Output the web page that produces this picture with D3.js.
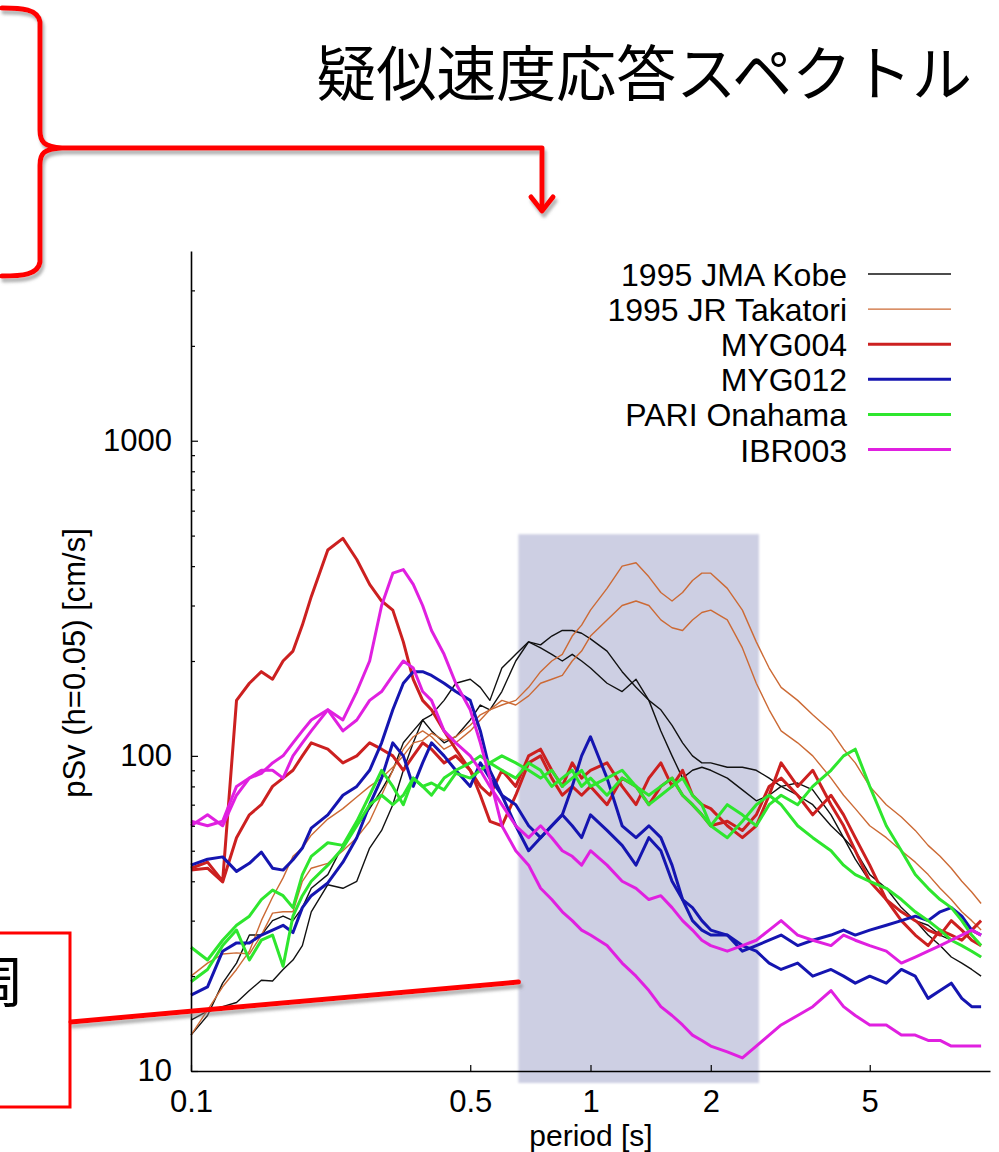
<!DOCTYPE html>
<html>
<head>
<meta charset="utf-8">
<script src="https://cdn.jsdelivr.net/npm/d3@7"></script>
<style>
  html, body { margin: 0; padding: 0; background: #fff; }
  svg { display: block; }
</style>
</head>
<body>
<svg id="chart" width="999" height="1152"></svg>
<script>
// Natural period of the oscillator [s]
const periods = [0.10, 0.11, 0.12, 0.13, 0.14, 0.15, 0.16, 0.17, 0.18, 0.19,
  0.20, 0.22, 0.24, 0.26, 0.28, 0.30, 0.32, 0.34, 0.36, 0.38,
  0.40, 0.43, 0.46, 0.50, 0.53, 0.56, 0.60, 0.65, 0.70, 0.75,
  0.80, 0.85, 0.90, 0.95, 1.0, 1.1, 1.2, 1.3, 1.4, 1.5,
  1.6, 1.7, 1.8, 1.9, 2.0, 2.2, 2.4, 2.6, 2.8, 3.0,
  3.3, 3.6, 4.0, 4.3, 4.6, 5.0, 5.5, 6.0, 6.5, 7.0,
  7.5, 8.0, 8.5, 9.0, 9.5];

// Pseudo-velocity response pSv (h=0.05) [cm/s], two horizontal components per station
const kobeNS = [14.5, 15.5, 16, 16.5, 18, 19.4, 19.3, 21, 22.5, 25,
  32, 39, 38, 40, 51, 58, 70, 90, 110, 130,
  135, 150, 170, 175, 165, 150, 190, 210, 230, 225,
  240, 250, 250, 245, 235, 215, 185, 165, 150, 140,
  125, 110, 100, 95, 95, 92, 92, 90, 85, 80,
  75, 70, 60, 55, 47, 40, 35, 32, 30, 27,
  25, 23, 22, 21, 20];
const kobeEW = [13, 15, 19, 22, 27, 27, 30, 31, 30, 33,
  38, 42, 52, 60, 68, 78, 90, 110, 120, 130,
  120, 110, 115, 130, 145, 140, 160, 200, 230, 220,
  210, 200, 210, 200, 190, 170, 160, 175, 150, 120,
  100, 85, 90, 92, 90, 85, 78, 72, 75, 80,
  82, 78, 65, 55, 50, 42, 38, 33, 30, 29,
  27, 26, 25, 24, 23];
const takatoriNS = [13, 15.6, 18.5, 21, 24, 30, 35.6, 41, 48, 51,
  56, 63, 68, 74, 80, 85, 92, 100, 110, 112,
  118, 112, 115, 125, 135, 140, 145, 150, 165, 185,
  200, 210, 240, 260, 290, 340, 400, 410, 370, 330,
  310, 330, 360, 380, 380, 340, 290, 230, 190, 165,
  150, 135, 120, 105, 95, 80, 70, 64, 58, 52,
  48, 44, 40, 37, 34];
const takatoriEW = [20, 22, 23.5, 23.7, 23.5, 27, 31.7, 32, 32, 40,
  44, 45.6, 50, 55, 62, 75, 90, 105, 115, 120,
  115, 105, 110, 120, 130, 140, 150, 145, 155, 170,
  175, 180, 200, 215, 240, 270, 300, 310, 300, 270,
  255, 250, 270, 285, 290, 270, 220, 170, 140, 120,
  110, 100, 85, 75, 68, 60, 55, 50, 46, 42,
  38, 35, 32, 30, 28];
const myg004NS = [44, 46, 40, 150, 170, 185, 175, 200, 215, 260,
  320, 450, 490, 420, 350, 310, 290, 230, 175, 150,
  140, 120, 105, 90, 75, 62, 60, 75, 95, 100,
  85, 75, 80, 75, 80, 70, 85, 80, 70, 80,
  85, 75, 70, 65, 60, 62, 58, 65, 80, 85,
  75, 65, 75, 65, 55, 45, 35, 30, 27, 25,
  28, 27, 26, 28, 30];
const myg004EW = [43.4, 44, 39.8, 55, 65, 70, 80, 85, 90, 100,
  110, 105, 95, 100, 110, 105, 100, 90, 100, 110,
  105, 95, 100, 90, 80, 75, 90, 80, 100, 105,
  90, 80, 95, 85, 90, 95, 80, 70, 85, 95,
  80, 90, 75, 70, 68, 60, 55, 60, 75, 95,
  80, 90, 70, 60, 50, 40, 35, 32, 30, 28,
  27, 30, 28, 26, 25];
const myg012NS = [45, 47, 47.8, 43, 45.6, 49.5, 44, 43.4, 46.8, 51,
  59, 65, 75, 80, 90, 110, 140, 170, 185, 185,
  180, 170, 160, 150, 120, 90, 75, 60, 50, 55,
  60, 65, 80, 100, 115, 85, 60, 55, 60, 55,
  45, 35, 30, 28, 27, 27, 25, 24, 22, 21,
  22, 20, 21, 20, 19, 20, 19, 21, 20, 17,
  18, 19, 17, 16, 16];
const myg012EW = [17.4, 18.5, 24, 25.5, 25.5, 27, 28, 29, 27.5, 33,
  36, 39.5, 46, 55, 70, 85, 110, 100, 80, 95,
  110, 100, 90, 80, 95, 85, 75, 70, 60, 55,
  60, 65, 60, 55, 65, 58, 52, 45, 55, 50,
  40, 35, 33, 30, 28, 27, 24, 25, 26, 27,
  25, 26, 27, 28, 27, 28, 29, 30, 31, 30,
  32, 33, 31, 28, 27];
const onahamaNS = [24.7, 22.5, 26, 29, 31, 35, 37.5, 36, 33, 42,
  48, 53, 52, 62, 75, 90, 80, 70, 85, 80,
  75, 85, 90, 95, 100, 95, 90, 85, 95, 90,
  80, 85, 90, 80, 85, 75, 85, 80, 75, 80,
  85, 75, 70, 65, 60, 70, 65, 60, 70, 75,
  70, 80, 90, 100, 105, 80, 60, 50, 42, 38,
  35, 33, 30, 27, 25];
const onahamaEW = [19.2, 21, 25, 28, 22.5, 26, 27, 21.5, 31, 36,
  40, 45, 51, 60, 70, 75, 70, 75, 85, 80,
  82, 78, 88, 85, 90, 95, 100, 95, 90, 85,
  90, 80, 85, 90, 80, 85, 90, 80, 70, 75,
  80, 85, 75, 70, 60, 55, 62, 70, 75, 70,
  60, 55, 50, 45, 42, 40, 38, 35, 32, 30,
  28, 26, 25, 24, 23];
const ibr003NS = [60, 65, 60, 75, 85, 90, 90, 85, 100, 110,
  120, 140, 130, 160, 200, 300, 380, 390, 350, 300,
  250, 210, 170, 140, 110, 85, 60, 50, 45, 38,
  35, 32, 30, 28, 27, 25, 22, 20, 18, 16,
  15, 14, 13, 12.5, 12, 11.5, 11, 12, 13, 14,
  15, 16, 18, 16, 15, 14, 14, 13, 13, 12.5,
  12.5, 12, 12, 12, 12];
const ibr003EW = [62, 60, 62, 80, 85, 88, 95, 100, 110, 120,
  130, 140, 120, 130, 150, 160, 180, 200, 190, 160,
  150, 120, 110, 100, 90, 80, 70, 60, 55, 60,
  55, 50, 48, 45, 50, 45, 40, 38, 35, 36,
  33, 30, 28, 26, 25, 24, 25, 26, 28, 30,
  27, 26, 25, 27, 26, 25, 24, 22, 23, 24,
  25, 26, 27, 28, 27];

// Axis ticks
const xTickValues = [0.1, 0.5, 1, 2, 5];
const yMajorTicks = [10, 100, 1000];
const yMinorTicks = [20, 30, 40, 50, 60, 70, 80, 90,
  200, 300, 400, 500, 600, 700, 800, 900, 2000, 3000];

// Period band highlighted on the chart [s] and its upper pSv edge
const bandPeriods = [0.66, 2.64];
const bandTop = 505;

const legendNames = ["1995 JMA Kobe", "1995 JR Takatori", "MYG004", "MYG012", "PARI Onahama", "IBR003"];
const legendColors = ["#111111", "#cc6a35", "#cc2020", "#1515b0", "#2ee62e", "#e020e0"];
const legendWidths = [1.4, 1.4, 3, 3, 3, 3];
const stationValues = [
  [kobeNS, kobeEW], [takatoriNS, takatoriEW], [myg004NS, myg004EW],
  [myg012NS, myg012EW], [onahamaNS, onahamaEW], [ibr003NS, ibr003EW]
];

const svg = d3.select("#chart");
svg.append("rect").attr("width", 999).attr("height", 1152).attr("fill", "#fff");

const defs = svg.append("defs");
const shadow = defs.append("filter").attr("id", "shadow")
  .attr("x", "-10%").attr("y", "-10%").attr("width", "130%").attr("height", "130%");
shadow.append("feDropShadow").attr("dx", 2).attr("dy", 4).attr("stdDeviation", 1.5)
  .attr("flood-color", "#777").attr("flood-opacity", 0.55);
const soft = defs.append("filter").attr("id", "soft")
  .attr("x", "-5%").attr("y", "-5%").attr("width", "110%").attr("height", "110%");
soft.append("feGaussianBlur").attr("stdDeviation", 1.2);

const x = d3.scaleLog().domain([0.1, 10]).range([191, 990]);
const y = d3.scaleLog().domain([10, 4000]).range([1071, 251]);

// Highlighted period band
svg.append("rect")
  .attr("x", x(bandPeriods[0]))
  .attr("y", y(bandTop))
  .attr("width", x(bandPeriods[1]) - x(bandPeriods[0]))
  .attr("height", y.range()[0] + 12 - y(bandTop))
  .attr("fill", "#cdcfe3")
  .attr("filter", "url(#soft)");

// Response spectra
const line = d3.line()
  .x((d, i) => x(periods[i]))
  .y(d => y(d))
  .curve(d3.curveLinear);

const plot = svg.append("g").attr("fill", "none").attr("stroke-linejoin", "round");
stationValues.forEach((pair, s) => {
  pair.forEach(vals => {
    plot.append("path")
      .datum(vals)
      .attr("d", line)
      .attr("stroke", legendColors[s])
      .attr("stroke-width", legendWidths[s]);
  });
});

// Axes
const fontFamily = "'Liberation Sans', Arial, Helvetica, sans-serif";
svg.append("g").attr("transform", "translate(191,0)")
  .call(d3.axisLeft(y).tickValues(yMajorTicks).tickFormat(d3.format("d"))
    .tickSize(-7).tickSizeOuter(0).tickPadding(19));
svg.append("g").attr("transform", "translate(191,0)")
  .call(d3.axisLeft(y).tickValues(yMinorTicks).tickFormat("")
    .tickSize(-4).tickSizeOuter(0))
  .select(".domain").remove();
svg.append("g").attr("transform", "translate(0,1071)")
  .call(d3.axisBottom(x).tickValues(xTickValues).tickFormat(d => String(d))
    .tickSize(-6).tickSizeOuter(0).tickPadding(19));
svg.selectAll(".tick text").attr("font-family", fontFamily).attr("font-size", 31).attr("fill", "#000");
svg.selectAll(".domain").attr("stroke", "#000").attr("stroke-width", 1.6);
svg.selectAll(".tick line").attr("stroke", "#000").attr("stroke-width", 1.2);

svg.append("text")
  .attr("transform", "translate(85,663) rotate(-90)")
  .attr("text-anchor", "middle")
  .attr("font-family", fontFamily).attr("font-size", 31)
  .text("pSv (h=0.05) [cm/s]");
svg.append("text")
  .attr("x", 591).attr("y", 1145.5)
  .attr("text-anchor", "middle")
  .attr("font-family", fontFamily).attr("font-size", 30)
  .text("period [s]");

// Legend
const legend = svg.append("g");
legendNames.forEach((name, i) => {
  const ly = 274 + i * 35.1;
  legend.append("text")
    .attr("x", 847).attr("y", ly + 12)
    .attr("text-anchor", "end")
    .attr("font-family", fontFamily).attr("font-size", 32)
    .text(name);
  legend.append("line")
    .attr("x1", 868).attr("x2", 951).attr("y1", ly).attr("y2", ly)
    .attr("stroke", legendColors[i]).attr("stroke-width", legendWidths[i]);
});

// Title
svg.append("text")
  .attr("x", 972).attr("y", 96)
  .attr("text-anchor", "end")
  .attr("font-family", "'Noto Sans CJK JP', sans-serif")
  .attr("font-size", 60)
  .text("疑似速度応答スペクトル");

// Red callouts
const callouts = svg.append("g")
  .attr("fill", "none").attr("stroke", "#ff0000").attr("stroke-width", 5)
  .attr("stroke-linecap", "round").attr("stroke-linejoin", "round")
  .attr("filter", "url(#shadow)");
// brace with leader arrow
callouts.append("path")
  .attr("d", "M2,8 C22,8 38,9 40,22 L40,130 C40,142 44,147 62,148 M62,148 L542,148 L542,210 " +
    "M40,165 C40,153 44,149 62,148 M40,165 L40,262 C38,275 22,276 2,276");
callouts.append("path")
  .attr("d", "M531,197 L542,211 L553,197");
// connector from the note box to the band
callouts.append("line")
  .attr("x1", 71).attr("y1", 1022).attr("x2", x(bandPeriods[0])).attr("y2", 982);

// boxed note at lower left
svg.append("rect")
  .attr("x", -10).attr("y", 933).attr("width", 80).attr("height", 174)
  .attr("fill", "none").attr("stroke", "#ff0000").attr("stroke-width", 3);
svg.append("text")
  .attr("x", 24).attr("y", 1002)
  .attr("text-anchor", "end")
  .attr("font-family", "'Noto Sans CJK JP', sans-serif")
  .attr("font-size", 56)
  .text("周");
</script>
</body>
</html>
